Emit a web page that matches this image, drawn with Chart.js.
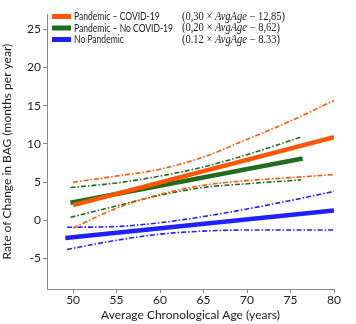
<!DOCTYPE html>
<html>
<head>
<meta charset="utf-8">
<script src="https://cdn.jsdelivr.net/npm/chart.js@4"></script>
<style>
  html, body { margin: 0; padding: 0; background: #fff; }
  #wrap { width: 356px; height: 324px; }
</style>
</head>
<body>
<div id="wrap"><canvas id="chart" width="356" height="324"></canvas></div>
<script>
// ----- Dados -----
const legendNames = ["Pandemic \u2013 COVID-19", "Pandemic \u2013 No COVID-19", "No Pandemic"];
const legendSlopes = ["0,30", "0,20", "0.12"];
const legendIntercepts = ["12,85", "8,62", "8.33"];
const seriesColors = ["#ff5500", "#1f6b1f", "#1f1fff"];

const covidFitAge = [50, 80];
const covidFit = [2.0, 10.9];
const covidCiAge = [50, 55, 60, 65, 70, 75, 80];
const covidUpper = [5.0, 5.8, 6.7, 8.3, 10.6, 13.0, 15.7];
const covidLower = [-1.0, 1.6, 3.4, 4.6, 5.2, 5.6, 6.0];

const noCovidFitAge = [49.7, 76.4];
const noCovidFit = [2.3, 8.1];
const noCovidCiAge = [49.7, 55, 60, 65, 70, 76.2];
const noCovidUpper = [4.3, 4.9, 5.8, 7.0, 8.6, 10.9];
const noCovidLower = [0.4, 1.9, 3.3, 4.3, 4.8, 5.3];

const noPandFitAge = [49.1, 80];
const noPandFit = [-2.3, 1.3];
const noPandCiAge = [49.3, 55, 60, 65, 70, 75, 80];
const noPandUpper = [-0.9, -0.8, -0.3, 0.5, 1.5, 2.6, 3.8];
const noPandLower = [-3.8, -2.6, -1.8, -1.4, -1.25, -1.25, -1.25];

const xTicks = [50, 55, 60, 65, 70, 75, 80];
const yTicks = [-5, 0, 5, 10, 15, 20, 25];

const pts = (xs, ys) => xs.map((x, i) => ({ x, y: ys[i] }));

function fitLine(xs, ys, color) {
  return { data: pts(xs, ys), borderColor: color, borderWidth: 4.5, pointRadius: 0, tension: 0, fill: false };
}
function ciLine(xs, ys, color) {
  return { data: pts(xs, ys), borderColor: color, borderWidth: 1.6, borderDash: [5, 2, 1.5, 2], pointRadius: 0,
           cubicInterpolationMode: "monotone", fill: false };
}

// ----- Legenda desenhada no canvas -----
const legendPlugin = {
  id: "legendEq",
  afterDraw(chart) {
    const ctx = chart.ctx;
    const rows = [16.5, 28, 39.5];
    const serif = "11.5px 'Liberation Serif'";
    const serifIt = "italic 11.5px 'Liberation Serif'";
    ctx.save();
    ctx.textBaseline = "middle";
    ctx.font = "11px Lato";
    const nameScale = 99 / ctx.measureText(legendNames[1]).width;
    legendNames.forEach((name, i) => {
      const y = rows[i];
      ctx.fillStyle = seriesColors[i];
      ctx.fillRect(52, y - 2.5, 19, 5);
      ctx.fillStyle = "#222";
      ctx.font = "11px Lato";
      ctx.save();
      ctx.translate(74, y);
      ctx.scale(nameScale, 1);
      ctx.fillText(name, 0, 0);
      ctx.restore();

      // equação, comprimida para ~103px
      const parts = [["(" + legendSlopes[i] + " \u00d7 ", serif], ["AvgAge", serifIt], [" \u2212 " + legendIntercepts[i] + ")", serif]];
      let total = 0;
      parts.forEach(p => { ctx.font = p[1]; total += ctx.measureText(p[0]).width; });
      const eqScale = Math.min(1, (i === 0 ? 103 : 98) / total);
      ctx.save();
      ctx.translate(182, y);
      ctx.scale(eqScale, 1);
      let x = 0;
      parts.forEach(p => { ctx.font = p[1]; ctx.fillText(p[0], x, 0); x += ctx.measureText(p[0]).width; });
      ctx.restore();
    });
    ctx.restore();
  }
};

const tickFont = { family: "Lato", size: 12 };

new Chart(document.getElementById("chart"), {
  type: "line",
  data: {
    datasets: [
      ciLine(covidCiAge, covidUpper, seriesColors[0]),
      ciLine(covidCiAge, covidLower, seriesColors[0]),
      ciLine(noCovidCiAge, noCovidUpper, seriesColors[1]),
      ciLine(noCovidCiAge, noCovidLower, seriesColors[1]),
      ciLine(noPandCiAge, noPandUpper, seriesColors[2]),
      ciLine(noPandCiAge, noPandLower, seriesColors[2]),
      fitLine(covidFitAge, covidFit, seriesColors[0]),
      fitLine(noCovidFitAge, noCovidFit, seriesColors[1]),
      fitLine(noPandFitAge, noPandFit, seriesColors[2])
    ]
  },
  options: {
    responsive: false,
    animation: false,
    layout: { padding: { top: 14, right: 22, left: 0, bottom: 0 } },
    plugins: { legend: { display: false }, tooltip: { enabled: false } },
    scales: {
      x: {
        type: "linear", min: 47, max: 80,
        afterBuildTicks: s => { s.ticks = xTicks.map(v => ({ value: v })); },
        grid: { display: true, drawOnChartArea: false, drawTicks: true, tickLength: 4, color: "#888" },
        border: { display: true, color: "#888", width: 1 },
        ticks: { color: "#222", font: tickFont, padding: 0, maxRotation: 0 },
        title: { display: true, text: "Average Chronological Age (years)", color: "#222", font: tickFont, padding: { top: 0, bottom: 2 } }
      },
      y: {
        type: "linear", min: -9, max: 27,
        afterBuildTicks: s => { s.ticks = yTicks.map(v => ({ value: v })); },
        grid: { display: true, drawOnChartArea: false, drawTicks: true, tickLength: 4, color: "#888" },
        border: { display: true, color: "#888", width: 1 },
        ticks: { color: "#222", font: tickFont, padding: 2 },
        title: { display: true, text: "Rate of Change in BAG (months per year)", color: "#222", font: tickFont, padding: { top: 0, bottom: 4 } },
        afterFit: s => { s.width = 47; }
      }
    }
  },
  plugins: [legendPlugin]
});
</script>
</body>
</html>
